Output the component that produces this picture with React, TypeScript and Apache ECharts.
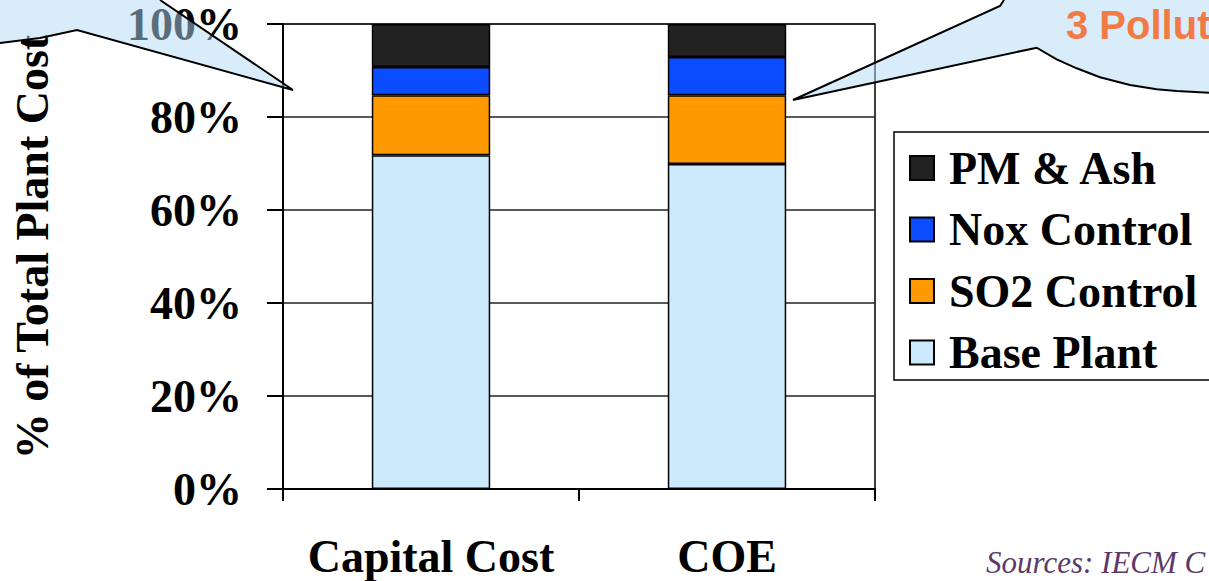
import React, { useEffect, useRef } from "react";
import * as echarts from "echarts";

const categories = ["Capital Cost", "COE"];
const basePlant = [71.8, 69.9];
const so2Control = [12.9, 14.8];
const noxControl = [6.05, 8.2];
const pmAsh = [9.25, 7.1];
const legendOrder = ["PM & Ash", "Nox Control", "SO2 Control", "Base Plant"];
const yAxisTitle = "% of Total Plant Cost";
const calloutRightText = "3 Pollut";
const sourcesText = "Sources: IECM C";

const SERIF = "'Liberation Serif', 'Times New Roman', serif";
const SANS = "'Liberation Sans', Arial, sans-serif";

export default function App() {
  const ref = useRef<HTMLDivElement>(null);
  useEffect(() => {
    if (!ref.current) return;
    const chart = echarts.init(ref.current, null, { renderer: "svg" });
    const mk = (name: string, data: number[], color: string) => ({
      name,
      type: "bar",
      stack: "total",
      data,
      barWidth: "40%",
      itemStyle: { color, borderColor: "#000", borderWidth: 1.5 },
      emphasis: { disabled: true },
    });
    const calloutFill = "rgba(179,217,245,0.5)";
    const rightCurve = [
      [1036.7, 47.7],
      [1056.7, 59.3],
      [1076.7, 68.3],
      [1100, 77.3],
      [1130, 85],
      [1156.7, 89.3],
      [1176.7, 91],
      [1209, 92.7],
    ];
    chart.setOption({
      animation: false,
      backgroundColor: "#fff",
      grid: {
        left: 283,
        right: 334,
        top: 24,
        bottom: 92,
        show: true,
        borderColor: "#000",
        borderWidth: 1.5,
        backgroundColor: "transparent",
      },
      legend: {
        data: legendOrder,
        orient: "vertical",
        left: 894,
        top: 132,
        icon: "rect",
        itemWidth: 24,
        itemHeight: 24,
        itemGap: 15.5,
        padding: [13, 10, 4, 15],
        borderWidth: 0,
        selectedMode: false,
        z: 10,
        textStyle: {
          fontFamily: SERIF,
          fontWeight: "bold",
          fontSize: 46,
          lineHeight: 46,
          color: "#000",
          padding: [0, 0, 0, 10],
        },
      },
      xAxis: {
        type: "category",
        data: categories,
        boundaryGap: true,
        axisLine: { lineStyle: { color: "#000", width: 2 } },
        axisTick: { show: true, length: 12, lineStyle: { color: "#000", width: 2 } },
        axisLabel: {
          interval: 0,
          fontFamily: SERIF,
          fontWeight: "bold",
          fontSize: 46,
          color: "#000",
          margin: 44,
        },
      },
      yAxis: {
        type: "value",
        min: 0,
        max: 100,
        interval: 20,
        axisLine: { show: true, lineStyle: { color: "#000", width: 2 } },
        axisTick: { show: true, length: 16, lineStyle: { color: "#000", width: 2 } },
        splitLine: { show: true, lineStyle: { color: "#222", width: 1.5 } },
        axisLabel: {
          formatter: "{value}%",
          fontFamily: SERIF,
          fontWeight: "bold",
          fontSize: 46,
          color: "#000",
          margin: 41,
        },
      },
      series: [
        mk("Base Plant", basePlant, "#cdeafd"),
        mk("SO2 Control", so2Control, "#ff9900"),
        mk("Nox Control", noxControl, "#0c4cff"),
        mk("PM & Ash", pmAsh, "#222222"),
      ],
      graphic: [
        {
          type: "rect",
          z: 1,
          shape: { x: 894, y: 132, width: 400, height: 248 },
          style: { fill: "#fff", stroke: "#000", lineWidth: 1.5 },
        },
        {
          type: "text",
          x: 32,
          y: 247,
          rotation: Math.PI / 2,
          z: 50,
          style: {
            text: yAxisTitle,
            fontFamily: SERIF,
            fontWeight: "bold",
            fontSize: 46,
            fill: "#000",
            align: "center",
            verticalAlign: "middle",
          },
        },
        {
          type: "polygon",
          z: 100,
          shape: {
            points: [
              [0, 0],
              [160, 0],
              [293, 90],
              [77, 30],
              [40, 38],
              [0, 43],
            ],
          },
          style: { fill: calloutFill, stroke: "none" },
        },
        {
          type: "polyline",
          z: 101,
          shape: {
            points: [
              [160, 0],
              [293, 90],
              [77, 30],
              [40, 38],
              [0, 43],
            ],
          },
          style: { stroke: "#000", lineWidth: 2, fill: "none" },
        },
        {
          type: "polygon",
          z: 100,
          shape: {
            points: [
              [793, 100],
              [1000, 6],
              [1004, 0],
              [1209, 0],
              ...rightCurve.slice().reverse(),
            ],
          },
          style: { fill: calloutFill, stroke: "none" },
        },
        {
          type: "polyline",
          z: 101,
          shape: {
            points: [[1004, 0], [1000, 6], [793, 100], ...rightCurve],
          },
          style: { stroke: "#000", lineWidth: 2, fill: "none" },
        },
        {
          type: "text",
          x: 1066,
          y: 25,
          z: 102,
          style: {
            text: calloutRightText,
            fontFamily: SANS,
            fontWeight: "bold",
            fontSize: 40,
            fill: "#f27b45",
            align: "left",
            verticalAlign: "middle",
          },
        },
        {
          type: "text",
          x: 986,
          y: 562,
          z: 102,
          style: {
            text: sourcesText,
            fontFamily: SERIF,
            fontStyle: "italic",
            fontSize: 31,
            fill: "#5b3a6b",
            align: "left",
            verticalAlign: "middle",
          },
        },
      ],
    });
    return () => chart.dispose();
  }, []);
  return (
    <div
      ref={ref}
      style={{ position: "fixed", left: 0, top: 0, width: 1209, height: 581 }}
    />
  );
}
